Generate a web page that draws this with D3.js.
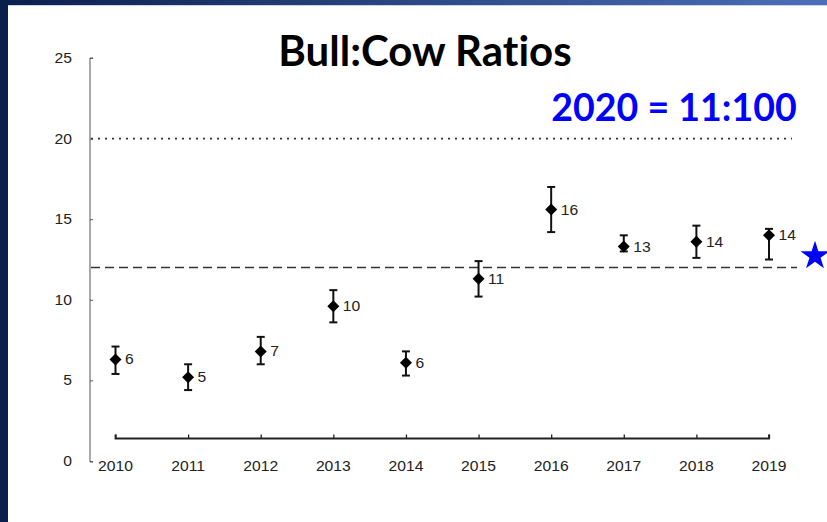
<!DOCTYPE html>
<html lang="en">
<head>
<meta charset="UTF-8" />
<title>Bull:Cow Ratios</title>
<script src="https://d3js.org/d3.v7.min.js"></script>
<style>
    html, body { margin: 0; padding: 0; background: #fff; overflow: hidden; }
    svg { display: block; }
    .num { font-family: "Liberation Sans", Arial, sans-serif; font-size: 14px; fill: #222; }
    .big { font-family: Lato, "Open Sans", sans-serif; font-weight: bold; font-variant-ligatures: none; }
</style>
</head>
<body>
<svg width="827" height="522"></svg>
<script>
    // data
    const years = ["2010", "2011", "2012", "2013", "2014", "2015", "2016", "2017", "2018", "2019"];
    const ratios = [6.3, 5.2, 6.8, 9.6, 6.1, 11.3, 15.6, 13.3, 13.6, 14.0];
    const lowCI = [5.4, 4.4, 6.0, 8.6, 5.3, 10.2, 14.2, 13.0, 12.6, 12.5];
    const highCI = [7.1, 6.0, 7.7, 10.6, 6.8, 12.4, 17.0, 14.0, 14.6, 14.4];
    const labels = ["6", "5", "7", "10", "6", "11", "16", "13", "14", "14"];
    const yTicks = [0, 5, 10, 15, 20, 25];
    const objective = 20;   // dotted line
    const threshold = 12;   // dashed line

    const svg = d3.select("svg");
    const stretch = 1.12;   // the source picture is a bit wide

    // slide frame
    const grad = svg.append("defs").append("linearGradient").attr("id", "topbar");
    grad.append("stop").attr("offset", "0%").attr("stop-color", "#0b1f4d");
    grad.append("stop").attr("offset", "100%").attr("stop-color", "#4c6fb8");
    svg.append("rect").attr("width", 827).attr("height", 5).attr("fill", "url(#topbar)");
    svg.append("rect").attr("y", 5).attr("width", 827).attr("height", 1).attr("fill", "#c9d3ea");
    svg.append("rect").attr("width", 8).attr("height", 522).attr("fill", "#0b1f4d");

    const y = d3.scaleLinear().domain([0, 25]).range([461, 58]);
    const x = d3.scalePoint().domain(years).range([115.5, 769]);

    // y axis, ticks pointing inward
    const yAxis = svg.append("g")
        .attr("transform", "translate(90,0)")
        .call(d3.axisRight(y).tickValues(yTicks).tickSize(3).tickFormat(""));
    yAxis.select(".domain").attr("stroke", "#555").attr("d", "M3,58H0V462H3");
    yAxis.selectAll(".tick line").attr("stroke", "#555");
    svg.append("g").selectAll("text")
        .data(yTicks)
        .join("text")
        .attr("class", "num")
        .attr("text-anchor", "end")
        .attr("transform", d => `translate(72,${y(d) + 5}) scale(${stretch},1)`)
        .text(d => d);

    // x axis, separate line with upward ticks
    const xAxis = svg.append("g")
        .attr("transform", "translate(0,438.5)")
        .call(d3.axisTop(x).tickSize(4).tickSizeOuter(0).tickFormat(""));
    xAxis.select(".domain").attr("stroke", "#222").attr("stroke-width", 1.8)
        .attr("d", `M${x("2010")},-4V0H${x("2019")}V-4`);
    xAxis.selectAll(".tick line").attr("stroke", "#222").attr("stroke-width", 1.3);
    svg.append("g").selectAll("text")
        .data(years)
        .join("text")
        .attr("class", "num")
        .attr("text-anchor", "middle")
        .attr("transform", d => `translate(${x(d)},471) scale(${stretch},1)`)
        .text(d => d);

    // reference lines
    svg.append("line")
        .attr("x1", 91).attr("x2", 792)
        .attr("y1", y(objective)).attr("y2", y(objective))
        .attr("stroke", "#333").attr("stroke-width", 1.6)
        .attr("stroke-dasharray", "2,5");
    svg.append("line")
        .attr("x1", 91).attr("x2", 797)
        .attr("y1", y(threshold)).attr("y2", y(threshold))
        .attr("stroke", "#333").attr("stroke-width", 1.6)
        .attr("stroke-dasharray", "9,5");

    // error bars
    const bars = svg.append("g").selectAll("g")
        .data(years)
        .join("g")
        .attr("stroke", "#111")
        .attr("stroke-width", 2);
    bars.append("line")
        .attr("x1", d => x(d)).attr("x2", d => x(d))
        .attr("y1", (d, i) => y(highCI[i])).attr("y2", (d, i) => y(lowCI[i]));
    bars.append("line")
        .attr("x1", d => x(d) - 4).attr("x2", d => x(d) + 4)
        .attr("y1", (d, i) => y(highCI[i])).attr("y2", (d, i) => y(highCI[i]));
    bars.append("line")
        .attr("x1", d => x(d) - 4).attr("x2", d => x(d) + 4)
        .attr("y1", (d, i) => y(lowCI[i])).attr("y2", (d, i) => y(lowCI[i]));

    // diamonds
    const diamond = d3.symbol().type(d3.symbolSquare).size(72);
    svg.append("g").selectAll("path")
        .data(years)
        .join("path")
        .attr("d", diamond)
        .attr("transform", (d, i) => `translate(${x(d)},${y(ratios[i])}) rotate(45)`)
        .attr("fill", "#000");

    // value labels
    svg.append("g").selectAll("text")
        .data(years)
        .join("text")
        .attr("class", "num")
        .attr("transform", (d, i) => `translate(${x(d) + 9.5},${y(ratios[i]) + 5}) scale(${stretch},1)`)
        .text((d, i) => labels[i]);

    // blue star
    svg.append("path")
        .attr("d", d3.symbol().type(d3.symbolStar).size(260))
        .attr("transform", "translate(815,256)")
        .attr("fill", "#0000ff");

    // titles
    svg.append("text")
        .attr("class", "big")
        .attr("x", 425).attr("y", 66)
        .attr("text-anchor", "middle")
        .attr("font-size", 42)
        .attr("fill", "#000")
        .text("Bull:Cow Ratios");
    svg.append("text")
        .attr("class", "big")
        .attr("x", 674).attr("y", 121)
        .attr("text-anchor", "middle")
        .attr("font-size", 37.5)
        .attr("fill", "#0000ff")
        .text("2020 = 11:100");
</script>
</body>
</html>
